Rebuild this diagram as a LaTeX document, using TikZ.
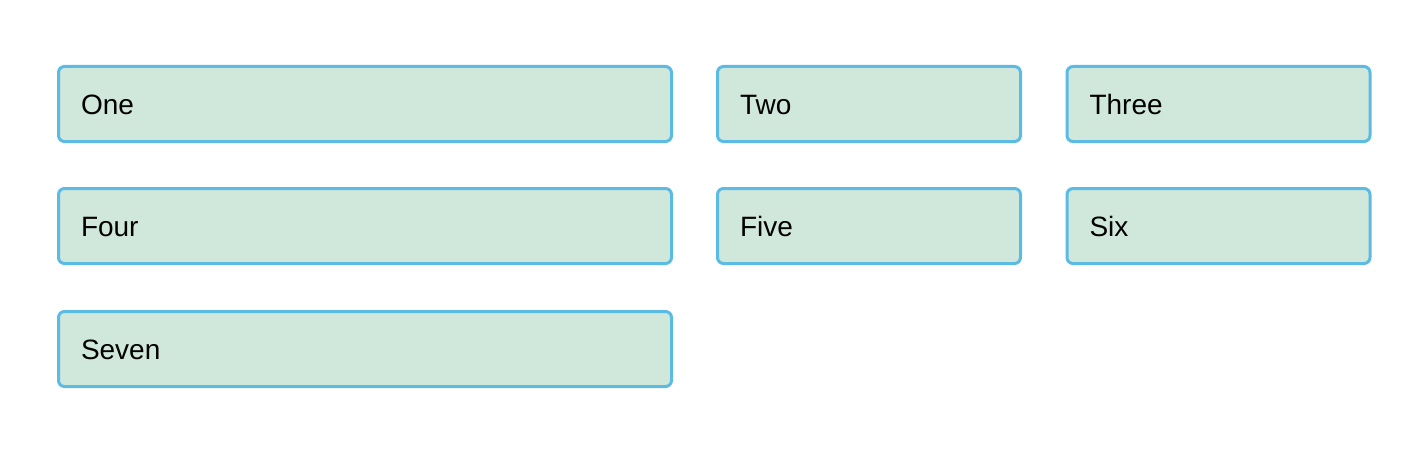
\documentclass[tikz,border=0pt]{standalone}
\usepackage{fontspec}
\setmainfont{Liberation Sans}
\definecolor{boxfill}{HTML}{D0E8DC}
\definecolor{boxline}{HTML}{5BBBE3}
\begin{document}
\begin{tikzpicture}[x=1pt,y=-1pt,
  cell/.style={draw=boxline, fill=boxfill, line width=3pt, rounded corners=6pt,
    minimum height=75pt, inner xsep=22.5pt, inner ysep=0pt, align=left,
    text height=20pt, text depth=0pt, font=\fontsize{28}{32}\selectfont},
  wide/.style={cell, text width=568pt},
  narrow/.style={cell, text width=258pt}]
\useasboundingbox (0,0) rectangle (1414,452);
\node[wide]   (one)   at (365,104)   {One};
\node[narrow] (two)   at (869,104)   {Two};
\node[narrow] (three) at (1218.5,104) {Three};
\node[wide]   (four)  at (365,226)   {Four};
\node[narrow] (five)  at (869,226)   {Five};
\node[narrow] (six)   at (1218.5,226) {Six};
\node[wide]   (seven) at (365,349)   {Seven};
\end{tikzpicture}
\end{document}
